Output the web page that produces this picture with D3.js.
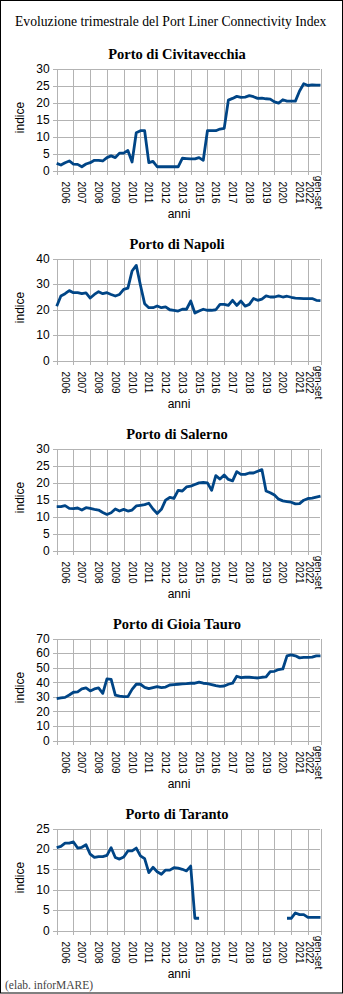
<!DOCTYPE html>
<html>
<head>
<meta charset="utf-8">
<script src="https://cdn.jsdelivr.net/npm/d3@7"></script>
<style>
  html, body { margin: 0; padding: 0; background: #fff; }
  svg { display: block; }
</style>
</head>
<body>
<svg id="chart" width="343" height="994"></svg>
<script>
// Period labels along the x axis (one band of quarters each)
const periods = ["2006", "2007", "2008", "2009", "2010", "2011", "2012", "2013",
                 "2015", "2016", "2017", "2018", "2019", "2020", "2021", "gen-set 2022"];
const pointsPerPeriod = 4;

// Quarterly index values, one array per port (null = no service)
const civitavecchia = [
  2.1, 1.6, 2.3, 2.8, 1.9, 1.8, 1.1, 1.9, 2.3, 3.0, 3.0, 2.8, 3.8, 4.3, 3.8, 5.1,
  5.1, 5.9, 2.5, 11.1, 11.7, 11.7, 2.3, 2.7, 1.1, 1.1, 1.1, 1.1, 1.1, 1.1, 3.6, 3.5,
  3.4, 3.4, 3.8, 3.0, 11.7, 11.7, 11.7, 12.2, 12.4, 20.7, 21.2, 21.8, 21.5, 21.6, 22.0, 21.7,
  21.2, 21.3, 21.1, 21.0, 20.2, 19.8, 20.8, 20.4, 20.4, 20.4, 23.4, 25.5, 25.0, 25.2, 25.1, 25.1
];
const napoli = [
  21.3, 25.3, 26.2, 27.4, 26.6, 26.6, 26.2, 26.5, 24.5, 25.9, 27.0, 26.2, 26.6, 25.9, 25.3, 25.9,
  27.9, 28.4, 35.1, 37.3, 29.5, 22.3, 20.7, 20.7, 21.4, 20.7, 21.0, 19.9, 19.7, 19.4, 20.1, 20.1,
  23.3, 18.6, 19.4, 20.1, 19.7, 19.7, 19.9, 22.0, 22.0, 21.6, 23.6, 21.6, 23.3, 21.3, 22.0, 24.3,
  23.6, 24.1, 25.3, 24.9, 24.9, 25.3, 24.9, 25.2, 24.8, 24.5, 24.4, 24.3, 24.3, 24.3, 23.6, 23.5
];
const salerno = [
  12.9, 12.9, 13.2, 12.4, 12.3, 12.5, 11.9, 12.6, 12.4, 12.1, 11.9, 11.2, 10.6, 11.1, 12.2, 11.6,
  12.1, 11.6, 11.9, 13.1, 13.3, 13.5, 13.9, 12.2, 10.9, 12.1, 14.8, 15.6, 15.3, 17.7, 17.5, 18.7,
  18.9, 19.4, 19.9, 20.0, 19.9, 17.7, 22.0, 21.0, 22.2, 20.9, 20.5, 23.2, 22.4, 22.4, 22.8, 22.8,
  23.3, 23.8, 17.5, 17.0, 16.3, 15.1, 14.6, 14.4, 14.2, 13.7, 13.8, 14.8, 15.3, 15.4, 15.7, 16.0
];
const gioiaTauro = [
  28.7, 29.2, 29.6, 31.2, 33.1, 33.3, 35.4, 36.1, 34.0, 35.4, 36.1, 32.4, 42.3, 42.0, 31.2, 30.5,
  30.1, 30.1, 35.1, 38.6, 38.6, 36.5, 35.6, 36.3, 37.0, 36.3, 36.7, 38.1, 38.4, 38.6, 38.8, 39.0,
  39.3, 39.3, 40.0, 39.3, 39.0, 38.4, 37.7, 37.2, 37.4, 38.6, 39.3, 44.1, 43.2, 43.4, 43.4, 43.2,
  42.9, 43.4, 43.6, 47.3, 47.5, 48.7, 49.1, 58.1, 58.8, 58.1, 56.7, 57.0, 57.0, 57.2, 58.1, 58.1
];
const taranto = [
  20.3, 20.6, 21.4, 21.4, 21.7, 20.2, 20.4, 21.0, 18.7, 17.9, 18.1, 18.1, 18.4, 20.3, 17.9, 17.5,
  18.0, 19.5, 19.5, 20.2, 18.3, 17.6, 14.2, 15.5, 14.4, 13.8, 14.8, 14.8, 15.4, 15.3, 15.0, 14.6,
  15.8, 3.0, 3.0, null, null, null, null, null, null, null, null, null, null, null, null, null,
  null, null, null, null, null, null, null, 3.0, 3.0, 4.3, 3.9, 3.9, 3.2, 3.2, 3.2, 3.2
];

// Panel titles, value arrays and y-axis extents
const portNames = ["Porto di Civitavecchia", "Porto di Napoli", "Porto di Salerno",
                   "Porto di Gioia Tauro", "Porto di Taranto"];
const portSeries = [civitavecchia, napoli, salerno, gioiaTauro, taranto];
const yMaxima = [30, 40, 30, 70, 25];
const ySteps  = [5, 10, 5, 10, 5];

const mainTitle = "Evoluzione trimestrale del Port Liner Connectivity Index";
const footnote = "(elab. inforMARE)";

// ---- layout ----
const W = 343, H = 994;
const plotLeft = 56.7, plotRight = 320.5;
const firstTop = 68.5, plotH = 102, panelStep = 190;
const lineColor = "#004586";
const gridColor = "#b3b3b3";
const sans = "'Liberation Sans', Arial, sans-serif";
const serif = "'Liberation Serif', 'Times New Roman', serif";

const svg = d3.select("#chart");

svg.append("rect")
  .attr("x", 0.5).attr("y", 0.5)
  .attr("width", W - 1).attr("height", H - 1.5)
  .attr("fill", "#fff").attr("stroke", "#000").attr("stroke-width", 1);

svg.append("text")
  .attr("x", 15).attr("y", 26)
  .attr("font-family", serif).attr("font-size", 13.65)
  .attr("fill", "#000")
  .text(mainTitle);

const nPoints = periods.length * pointsPerPeriod;
const x = d3.scaleLinear().domain([0, nPoints - 1]).range([plotLeft, plotRight]);

// band boundaries (start of each period, plus the last point)
const bounds = d3.range(0, nPoints, pointsPerPeriod).concat([nPoints - 1]);
const labelPos = periods.map((p, i) => (bounds[i] + bounds[i + 1]) / 2);

portSeries.forEach((values, p) => {
  const top = firstTop + p * panelStep;
  const bottom = top + plotH;
  const y = d3.scaleLinear().domain([0, yMaxima[p]]).range([bottom, top]);
  const yTicks = d3.range(0, yMaxima[p] + 0.001, ySteps[p]);

  const g = svg.append("g");

  // panel title
  g.append("text")
    .attr("x", 177).attr("y", top - 10)
    .attr("text-anchor", "middle")
    .attr("font-family", serif).attr("font-size", 14.5).attr("font-weight", "bold")
    .attr("fill", "#000")
    .text(portNames[p]);

  // horizontal grid
  g.append("g")
    .attr("transform", `translate(${plotLeft},0)`)
    .call(d3.axisLeft(y).tickValues(yTicks).tickSize(-(plotRight - plotLeft)).tickFormat(""))
    .call(s => s.select(".domain").remove())
    .call(s => s.selectAll("line").attr("stroke", gridColor).attr("shape-rendering", "crispEdges"));

  // vertical grid at period boundaries
  g.append("g")
    .attr("transform", `translate(0,${bottom})`)
    .call(d3.axisBottom(x).tickValues(bounds).tickSize(-plotH).tickFormat(""))
    .call(s => s.select(".domain").remove())
    .call(s => s.selectAll("line").attr("stroke", gridColor).attr("shape-rendering", "crispEdges"));

  // y axis
  g.append("g")
    .attr("transform", `translate(${plotLeft},0)`)
    .call(d3.axisLeft(y).tickValues(yTicks).tickSize(4).tickPadding(3))
    .call(s => s.select(".domain").attr("stroke", gridColor).attr("shape-rendering", "crispEdges"))
    .call(s => s.selectAll("line").attr("stroke", gridColor).attr("shape-rendering", "crispEdges"))
    .call(s => s.selectAll("text")
      .attr("font-family", sans).attr("font-size", 12).attr("fill", "#000"));

  // x axis (tick marks only, labels drawn rotated below)
  g.append("g")
    .attr("transform", `translate(0,${bottom})`)
    .call(d3.axisBottom(x).tickValues(bounds).tickSize(4).tickFormat(""))
    .call(s => s.select(".domain").attr("stroke", gridColor).attr("shape-rendering", "crispEdges"))
    .call(s => s.selectAll("line").attr("stroke", gridColor).attr("shape-rendering", "crispEdges"));

  // rotated period labels
  periods.forEach((label, i) => {
    const lines = label.split(" ");
    const cx = x(labelPos[i]);
    const t = g.append("text")
      .attr("transform", `translate(${cx},${bottom + 22}) rotate(90)`)
      .attr("text-anchor", "middle")
      .attr("font-family", sans).attr("font-size", 10)
      .attr("fill", "#000");
    const lineGap = 9.5;
    const offset0 = -(lines.length - 1) * lineGap / 2;
    lines.forEach((ln, k) => {
      t.append("tspan")
        .attr("x", 0)
        .attr("y", offset0 + k * lineGap)
        .attr("dy", "0.35em")
        .text(ln);
    });
  });

  // axis titles
  g.append("text")
    .attr("transform", `translate(24,${(top + bottom) / 2 - 2}) rotate(-90)`)
    .attr("text-anchor", "middle")
    .attr("font-family", sans).attr("font-size", 12).attr("fill", "#000")
    .text("indice");

  g.append("text")
    .attr("x", 179).attr("y", bottom + 47)
    .attr("text-anchor", "middle")
    .attr("font-family", sans).attr("font-size", 12).attr("fill", "#000")
    .text("anni");

  // data line
  const line = d3.line()
    .defined(d => d != null)
    .x((d, i) => x(i))
    .y(d => y(d));

  g.append("path")
    .datum(values)
    .attr("d", line)
    .attr("fill", "none")
    .attr("stroke", lineColor)
    .attr("stroke-width", 2.8)
    .attr("stroke-linejoin", "round")
    .attr("stroke-linecap", "butt");
});

svg.append("text")
  .attr("x", 5).attr("y", 988.5)
  .attr("font-family", serif).attr("font-size", 11.5)
  .attr("fill", "#444")
  .text(footnote);
</script>
</body>
</html>
